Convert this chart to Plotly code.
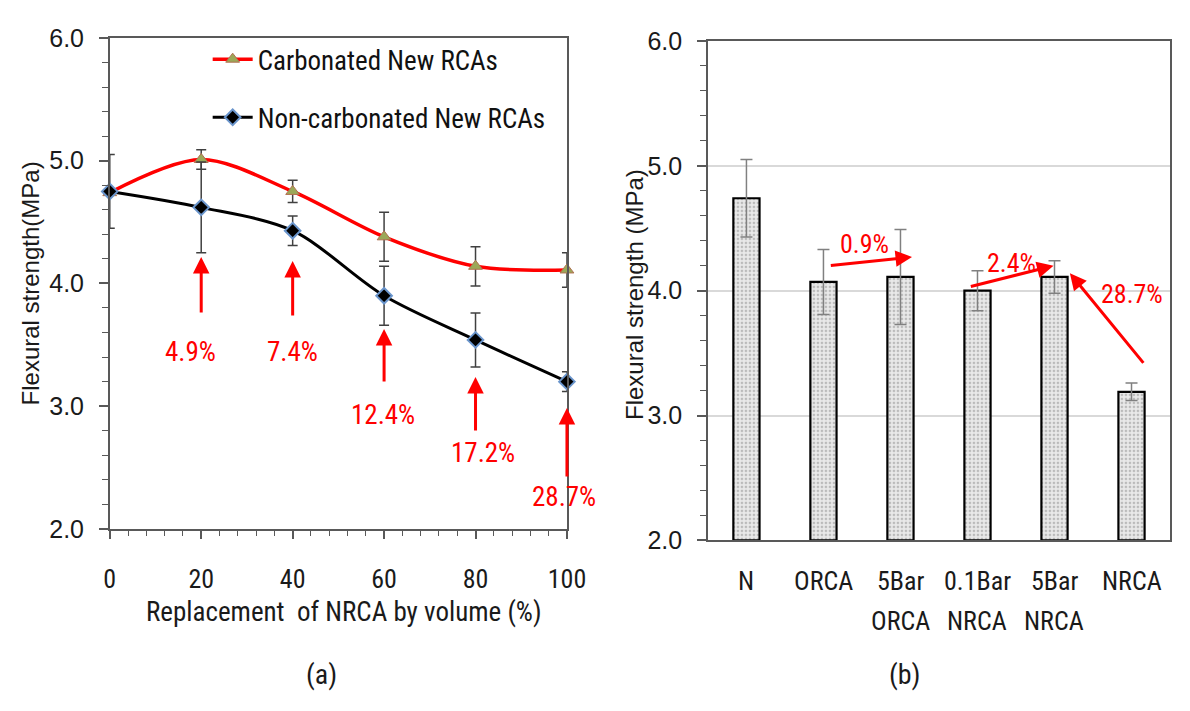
import plotly.graph_objects as go

# ---- panel (a): flexural strength vs. NRCA replacement ----
replacement = [0, 20, 40, 60, 80, 100]
carbonated = [4.74, 5.01, 4.75, 4.38, 4.14, 4.11]
carbonated_err = [0.0, 0.08, 0.09, 0.20, 0.16, 0.14]
non_carbonated = [4.75, 4.62, 4.43, 3.90, 3.54, 3.20]
non_carbonated_err = [0.30, 0.37, 0.12, 0.24, 0.22, 0.08]
increase_labels = ["4.9%", "7.4%", "12.4%", "17.2%", "28.7%"]

# ---- panel (b): flexural strength per mix ----
mixes = ["N", "ORCA", "5Bar ORCA", "0.1Bar NRCA", "5Bar NRCA", "NRCA"]
mix_strength = [4.74, 4.07, 4.11, 4.00, 4.11, 3.19]
mix_err = [0.31, 0.26, 0.38, 0.16, 0.13, 0.07]
change_labels = ["0.9%", "2.4%", "28.7%"]

NARROW = "Roboto Condensed, DejaVu Sans Condensed, Liberation Sans Narrow, Liberation Sans, sans-serif"
REGULAR = "Liberation Sans, Arial, sans-serif"
AXIS = "#595959"
RED = "#FF0000"
INK = "#1a1a1a"

W, H = 1190, 711


def px_x(px):
    return px / W


def px_y(py):
    return 1 - py / H


def paper_text(text, x, y, size, family=NARROW, angle=0, color=INK):
    return dict(text=text, x=px_x(x), y=px_y(y), xref="paper", yref="paper",
                xanchor="center", yanchor="middle", textangle=angle, showarrow=False,
                font=dict(family=family, size=size, color=color))


fig = go.Figure()

fig.add_trace(go.Scatter(
    x=replacement, y=carbonated, name="Carbonated New RCAs",
    mode="lines+markers", line=dict(color=RED, width=3.5, shape="spline", smoothing=0.9),
    marker=dict(symbol="triangle-up", size=12, color="#9BA858",
                line=dict(color="#B07050", width=1)),
    error_y=dict(type="data", array=carbonated_err, color="#404040", thickness=1.5, width=5),
    cliponaxis=False, legendgroup="a", xaxis="x", yaxis="y",
))
fig.add_trace(go.Scatter(
    x=replacement, y=non_carbonated, name="Non-carbonated New RCAs",
    mode="lines+markers", line=dict(color="#000000", width=3, shape="spline", smoothing=0.9),
    marker=dict(symbol="diamond", size=12, color="#000000",
                line=dict(color="#6A95CC", width=2)),
    error_y=dict(type="data", array=non_carbonated_err, color="#404040", thickness=1.5, width=5),
    cliponaxis=False, legendgroup="b", xaxis="x", yaxis="y",
))

fig.add_trace(go.Bar(
    x=list(range(len(mixes))), y=[v - 2.0 for v in mix_strength], base=2.0,
    width=0.34, showlegend=False,
    marker=dict(color="#E6E6E6", line=dict(color="#000000", width=2.2),
                pattern=dict(shape=".", fgcolor="#8C8C8C", bgcolor="#E9E9E9",
                             size=4, solidity=0.35)),
    error_y=dict(type="data", array=mix_err, color="#808080", thickness=1.5, width=6),
    xaxis="x2", yaxis="y2",
))

# plot-area boxes (pixel positions of the two panels)
ax_a = dict(left=106, right=573, top=25, bottom=536)
ax_b = dict(left=717, right=1189, top=28, bottom=548)

common_y = dict(
    range=[2, 6], tickvals=[2, 3, 4, 5, 6], ticktext=["2.0", "3.0", "4.0", "5.0", "6.0"],
    showline=True, linecolor=AXIS, linewidth=1.5, mirror=True,
    ticks="outside", ticklen=9, tickcolor=AXIS, tickwidth=1.5,
    minor=dict(dtick=0.2, ticks="outside", ticklen=6, tickcolor=AXIS, tickwidth=1.2),
    tickfont=dict(family=REGULAR, size=25, color=INK),
    ticklabelstandoff=10, zeroline=False,
)

fig.update_layout(
    width=W, height=H, margin=dict(l=0, r=0, t=0, b=0),
    paper_bgcolor="white", plot_bgcolor="white",
    xaxis=dict(
        domain=[px_x(ax_a["left"]), px_x(ax_a["right"])], range=[0, 100],
        tickvals=replacement, showline=True, linecolor=AXIS, linewidth=1.5, mirror=True,
        ticks="outside", ticklen=8, tickcolor=AXIS, tickwidth=1.5,
        minor=dict(dtick=4, ticks="outside", ticklen=5, tickcolor=AXIS, tickwidth=1.2),
        tickfont=dict(family=NARROW, size=26, color=INK),
        ticklabelstandoff=18, showgrid=False, zeroline=False, anchor="y",
    ),
    yaxis=dict(domain=[px_y(ax_a["bottom"]), px_y(ax_a["top"])], showgrid=False,
               anchor="x", **common_y),
    xaxis2=dict(
        domain=[px_x(ax_b["left"]), px_x(ax_b["right"])], range=[-0.5, len(mixes) - 0.5],
        tickvals=list(range(len(mixes))), ticktext=[""] * len(mixes),
        showline=True, linecolor=AXIS, linewidth=1.5, mirror=True,
        ticks="", showgrid=False, zeroline=False, anchor="y2",
    ),
    yaxis2=dict(domain=[px_y(ax_b["bottom"]), px_y(ax_b["top"])], showgrid=True,
                gridcolor="#D9D9D9", gridwidth=2, anchor="x2", **common_y),
    showlegend=True,
    legend=dict(
        x=px_x(206), y=px_y(22), xanchor="left", yanchor="top",
        font=dict(family=NARROW, size=27, color="#111111"),
        bgcolor="rgba(0,0,0,0)", traceorder="grouped", tracegroupgap=20,
        itemwidth=40,
    ),
)

ann = [
    paper_text("Flexural strength(MPa)", 26, 280, 24, family=REGULAR, angle=-90),
    paper_text("Flexural strength (MPa)", 642, 292, 24, family=REGULAR, angle=-90),
    paper_text("Replacement  of NRCA by volume (%)", 345, 622, 27),
    paper_text("(a)", 322, 688, 28),
    paper_text("(b)", 918, 688, 28),
]

# category labels for panel (b), one annotation per line
for i, name in enumerate(mixes):
    for j, line in enumerate(name.split(" ")):
        ann.append(dict(text=line, x=i, y=px_y(590 + 42 * j), xref="x2", yref="paper",
                        xanchor="center", yanchor="middle", showarrow=False,
                        font=dict(family=NARROW, size=26, color=INK)))

# upward arrows with strength gain in panel (a)
arrow_heads = [4.215, 4.184, 3.628, 3.237, 2.986]
arrow_lens = [57, 56, 54, 55, 70]
label_pos = [(17.6, 3.44), (40.0, 3.44), (59.7, 2.93), (81.6, 2.62), (99.4, 2.26)]
for xv, yh, ln, (lx, ly), txt in zip(replacement[1:], arrow_heads, arrow_lens, label_pos,
                                     increase_labels):
    ann.append(dict(x=xv, y=yh, xref="x", yref="y", ax=0, ay=ln, text="",
                    showarrow=True, arrowhead=2, arrowsize=1.1, arrowwidth=3, arrowcolor=RED))
    ann.append(dict(x=lx, y=ly, xref="x", yref="y", text=txt, showarrow=False,
                    xanchor="center", yanchor="middle",
                    font=dict(family=NARROW, size=27, color=RED)))

# change arrows in panel (b)
arrows_b = [
    ((1.076, 4.20), (2.15, 4.27), (1.53, 4.37)),
    ((2.894, 4.03), (3.987, 4.20), (3.44, 4.22)),
    ((5.17, 3.41), (4.20, 4.14), (5.0, 3.97)),
]
for (tail, head, lab), txt in zip(arrows_b, change_labels):
    ann.append(dict(x=head[0], y=head[1], ax=tail[0], ay=tail[1], xref="x2", yref="y2",
                    axref="x2", ayref="y2", text="", showarrow=True, arrowhead=2,
                    arrowsize=1.1, arrowwidth=3, arrowcolor=RED))
    ann.append(dict(x=lab[0], y=lab[1], xref="x2", yref="y2", text=txt, showarrow=False,
                    xanchor="center", yanchor="middle",
                    font=dict(family=NARROW, size=26, color=RED)))

fig.update_layout(annotations=ann)

fig.write_html("out.html")
